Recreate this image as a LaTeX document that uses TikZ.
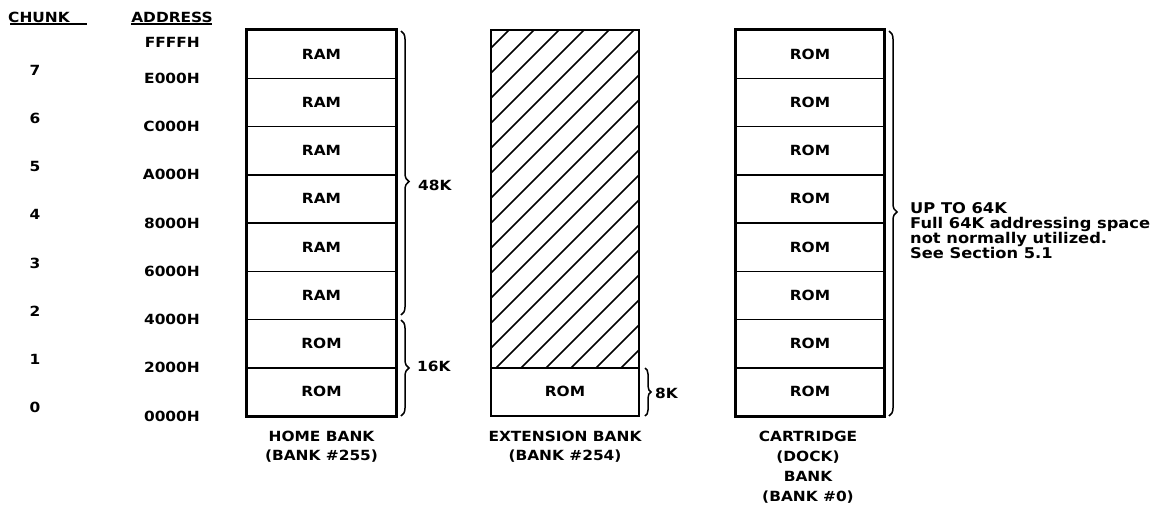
\documentclass[tikz,border=0pt]{standalone}
\usepackage{fontspec}
\setmainfont{DejaVu Sans}[FakeStretch=1.1]
\usetikzlibrary{decorations.pathreplacing}
\begin{document}
\begin{tikzpicture}[x=1pt,y=-1pt,
  lbl/.style={font=\bfseries\fontsize{14}{15}\selectfont, inner sep=0pt},
  cell/.style={draw, line width=1.5pt, minimum width=148pt, minimum height=48.25pt, inner sep=0pt, font=\bfseries\fontsize{14}{15}\selectfont},
  outer/.style={line width=2.8pt},
  brc/.style={decorate, decoration={brace, amplitude=8pt}, line width=1.5pt},
  hatch/.style={line width=1.6pt},
  uline/.style={line width=1.5pt}]
\useasboundingbox (0,0) rectangle (1157,504);

% headers
\node[lbl] (chunkhd) at (39,17) {CHUNK};
\node[lbl] (addrhd) at (172,17) {ADDRESS};
\coordinate (cu1) at (10,24); \coordinate (cu2) at (87,24);
\coordinate (au1) at (131,24); \coordinate (au2) at (212,24);
\draw[uline] (cu1) -- (cu2);
\draw[uline] (au1) -- (au2);

% addresses
\node[lbl, anchor=east] (aF) at (200,42) {FFFFH};
\foreach \k/\t in {7/E000H,6/C000H,5/A000H,4/8000H,3/6000H,2/4000H,1/2000H,0/0000H}{
  \node[lbl, anchor=east] (a\k) at (200,{416-\k*48.25}) {\t};
  \node[lbl] (ch\k) at (35,{416-(\k+1)*48.25+40}) {\k};
}

% home bank
\foreach \k/\t in {0/ROM,1/ROM,2/RAM,3/RAM,4/RAM,5/RAM,6/RAM,7/RAM}{
  \node[cell] (h\k) at (321.5,{416-(\k+0.5)*48.25}) {\t};
}
\draw[outer] (h7.north west) rectangle (h0.south east);

% extension bank
\node[cell] (e0) at (565,{416-0.5*48.25}) {ROM};
\coordinate (etl) at (491,30);
\coordinate (ebr) at (639,416);
\begin{scope}
  \clip (etl) rectangle (e0.north east);
  \foreach \c in {48,73,...,523}{
    \draw[hatch] (491,\c) -- ++(148,-148);
  }
\end{scope}
\draw[outer] (etl) rectangle (ebr);

% cartridge bank
\foreach \k in {0,...,7}{
  \node[cell] (c\k) at (810,{416-(\k+0.5)*48.25}) {ROM};
}
\draw[outer] (c7.north west) rectangle (c0.south east);

% braces
\coordinate (b48a) at (401,31); \coordinate (b48b) at (401,315);
\coordinate (b16a) at (401,320); \coordinate (b16b) at (401,416);
\coordinate (b8a) at (645,368); \coordinate (b8b) at (645,416);
\coordinate (b64a) at (889,31); \coordinate (b64b) at (889,416);
\draw[brc, decoration={aspect=0.53}] (b48a) -- (b48b);
\draw[brc] (b16a) -- (b16b);
\draw[brc, decoration={amplitude=6pt}] (b8a) -- (b8b);
\draw[brc, decoration={aspect=0.47}] (b64a) -- (b64b);
\node[lbl, anchor=west] (k48) at (418,185) {48K};
\node[lbl, anchor=west] (k16) at (417,366) {16K};
\node[lbl, anchor=west] (k8) at (655,393) {8K};
\node[lbl, anchor=north west, align=left, font=\bfseries\fontsize{14.8}{15}\selectfont] (k64) at (910,202)
  {UP TO 64K\\Full 64K addressing space\\not normally utilized.\\See Section 5.1};

% bank labels
\node[lbl, align=center, anchor=north] (hb) at (321.5,431) {HOME BANK\\[4pt](BANK \#255)};
\node[lbl, align=center, anchor=north] (eb) at (565,431) {EXTENSION BANK\\[4pt](BANK \#254)};
\node[lbl, align=center, anchor=north] (cb) at (808,431) {CARTRIDGE\\[5pt](DOCK)\\[5pt]BANK\\[5pt](BANK \#0)};
\end{tikzpicture}
\end{document}
